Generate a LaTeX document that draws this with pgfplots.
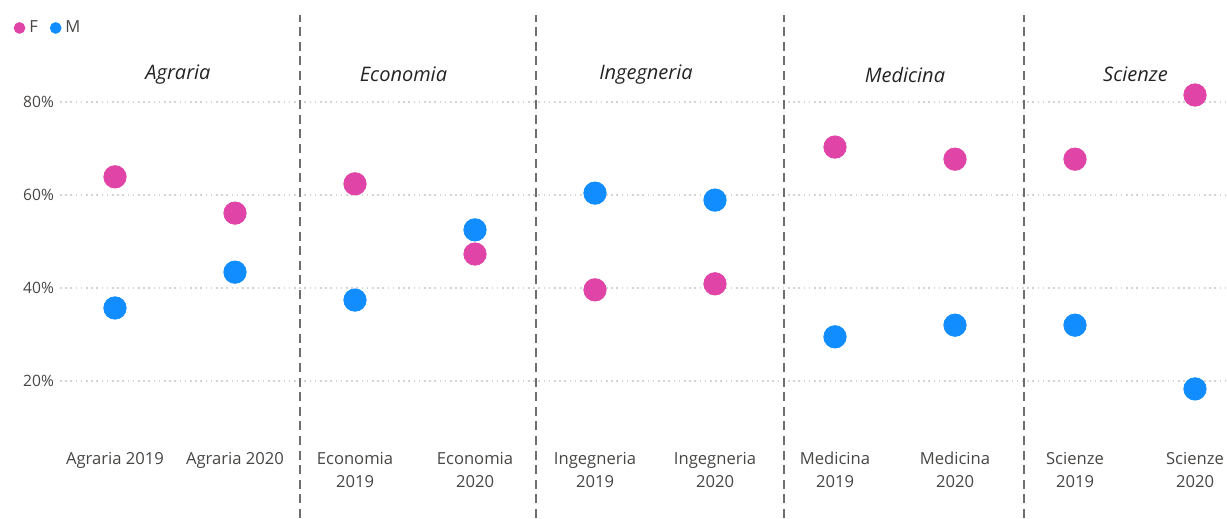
\documentclass[border=0pt]{standalone}
\usepackage{fontspec}
\setmainfont{Open Sans}
\usepackage{pgfplots}
\pgfplotsset{compat=1.18}

\definecolor{colF}{HTML}{E044A7}
\definecolor{colM}{HTML}{118DFF}
\definecolor{ticktxt}{HTML}{484644}
\definecolor{cattxt}{HTML}{252423}
\definecolor{sepline}{HTML}{6E6E6E}
\definecolor{gridc}{HTML}{D6D4D2}

\pgfplotstableread{
x   F     M
0   63.9  35.7
1   56.1  43.4
2   62.4  37.4
3   47.3  52.5
4   39.6  60.4
5   40.9  58.9
6   70.3  29.5
7   67.7  32.0
8   67.7  32.0
9   81.5  18.3
}\quote

\begin{document}
\begin{tikzpicture}[
    sep/.style={sepline, line width=1pt, dash pattern=on 4.5pt off 2.8pt},
    cat/.style={font=\fontsize{10}{12}\selectfont\itshape, text=cattxt},
]
\begin{axis}[
    scale only axis,
    width=583.5pt, height=259pt,
    xmin=-0.4583, xmax=9.2667,
    ymin=-9.46, ymax=101.93,
    clip=false,
    axis line style={draw=none},
    major tick length=0pt,
    ytick={20,40,60,80},
    yticklabels={20\%,40\%,60\%,80\%},
    yticklabel style={font=\fontsize{7.8}{9}\selectfont, text=ticktxt, xshift=0.5pt},
    xtick={0,...,9},
    xticklabels={Agraria 2019, Agraria 2020, {Economia\\2019}, {Economia\\2020},
        {Ingegneria\\2019}, {Ingegneria\\2020}, {Medicina\\2019}, {Medicina\\2020},
        {Scienze\\2019}, {Scienze\\2020}},
    xticklabel style={font=\fontsize{8.3}{11.5}\selectfont, text=ticktxt,
        align=center, anchor=north, yshift=36.5pt},
    ymajorgrids,
    grid style={gridc, line width=0.9pt, dash pattern=on 0.8pt off 1.8pt},
    legend columns=2,
    legend style={at={(axis description cs:-0.040,0.946)}, anchor=west,
        draw=none, fill=none, inner sep=0pt,
        font=\fontsize{8.3}{10}\selectfont, text=ticktxt,
        /tikz/every even column/.append style={column sep=4pt}},
    legend image code/.code={\fill[#1] (0.13cm,0pt) circle (2.7pt);},
]
\addplot[only marks, mark=*, mark size=5.6pt, colF, mark options={draw=none, fill=colF}]
    table[x=x, y=F] {\quote};
\addlegendentry{F}
\addplot[only marks, mark=*, mark size=5.6pt, colM, mark options={draw=none, fill=colM}]
    table[x=x, y=M] {\quote};
\addlegendentry{M}

\draw[sep] (axis cs:1.542,-9.46) -- (axis cs:1.542,98.7);
\draw[sep] (axis cs:3.508,-9.46) -- (axis cs:3.508,98.7);
\draw[sep] (axis cs:5.575,-9.46) -- (axis cs:5.575,98.7);
\draw[sep] (axis cs:7.575,-9.46) -- (axis cs:7.575,98.7);

\node[cat] at (axis cs:0.525,85.9) {Agraria};
\node[cat] at (axis cs:2.404,85.9) {Economia};
\node[cat] at (axis cs:4.425,85.9) {Ingegneria};
\node[cat] at (axis cs:6.583,85.9) {Medicina};
\node[cat] at (axis cs:8.504,85.9) {Scienze};

\coordinate (bbsw) at (rel axis cs:0,0);
\coordinate (bbne) at (rel axis cs:1,1);
\end{axis}
\pgfresetboundingbox
\path[use as bounding box] ([xshift=-30pt]bbsw) rectangle (bbne);
\end{tikzpicture}
\end{document}
